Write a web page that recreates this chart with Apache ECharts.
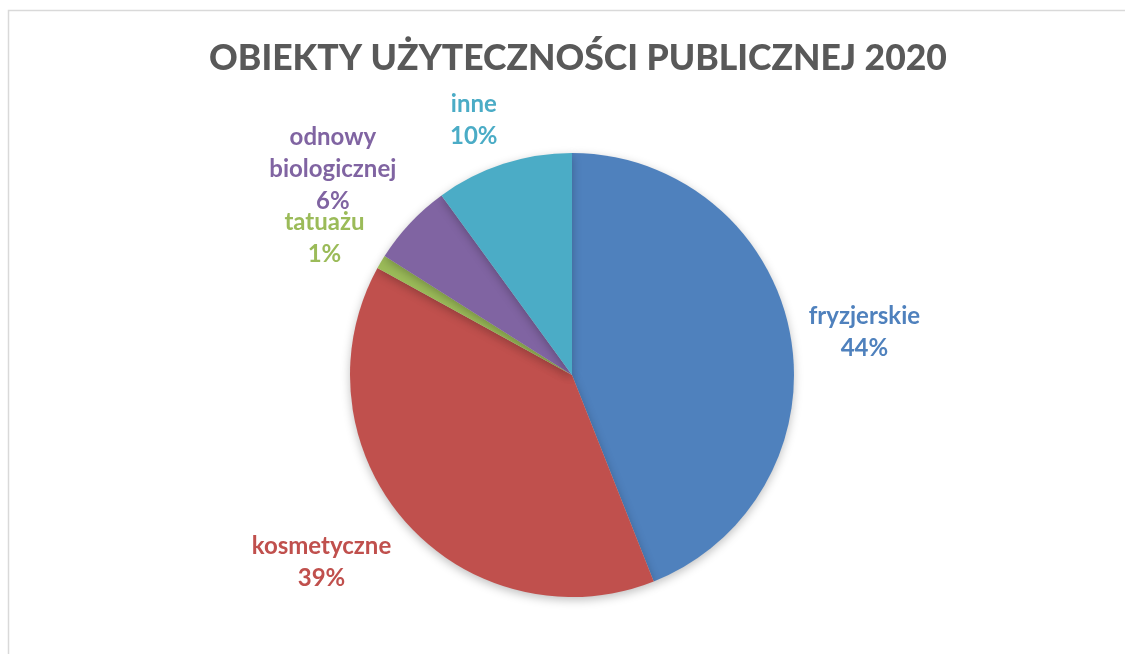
<!DOCTYPE html>
<html>
<head>
<meta charset="utf-8">
<script src="https://cdn.jsdelivr.net/npm/echarts@6/dist/echarts.min.js"></script>
<style>
html,body{margin:0;padding:0;background:#fff;}
#chart{width:1125px;height:654px;}
</style>
</head>
<body>
<div id="chart"></div>
<script>
var titleText = 'OBIEKTY UŻYTECZNOŚCI PUBLICZNEJ 2020';
var categories = ['fryzjerskie', 'kosmetyczne', 'tatuażu', 'odnowy\nbiologicznej', 'inne'];
var values = [44, 39, 1, 6, 10];
var colors = ['#4F81BD', '#C0504D', '#9BBB59', '#8064A2', '#4BACC6'];

var CX = 572, CY = 375, R = 222, GAP = 19;
var FONT = 'Lato, "Open Sans", sans-serif';

var total = values.reduce(function (a, b) { return a + b; }, 0);
var midAngles = [];
(function () {
  var acc = 0;
  for (var i = 0; i < values.length; i++) {
    midAngles.push((acc + values[i] / 2) / total * 2 * Math.PI);
    acc += values[i];
  }
})();

var chart = echarts.init(document.getElementById('chart'));
chart.setOption({
  backgroundColor: '#ffffff',
  animation: false,
  title: {
    text: titleText,
    left: 573,
    textAlign: 'center',
    top: 36,
    textStyle: { fontFamily: FONT, fontWeight: 900, fontSize: 35.5, color: '#595959' }
  },
  graphic: [{
    type: 'rect',
    shape: { x: 8.5, y: 10.5, width: 1200, height: 700 },
    style: { fill: 'none', stroke: '#d9d9d9', lineWidth: 1.5 },
    silent: true
  }],
  series: [{
    type: 'pie',
    center: [CX, CY],
    radius: [0, R],
    startAngle: 90,
    clockwise: true,
    percentPrecision: 0,
    avoidLabelOverlap: false,
    data: categories.map(function (c, i) {
      return { name: c, value: values[i], itemStyle: { color: colors[i] }, label: { color: colors[i] } };
    }),
    itemStyle: {
      borderWidth: 0,
      shadowBlur: 10,
      shadowOffsetY: 3,
      shadowColor: 'rgba(0,0,0,0.25)'
    },
    label: {
      show: true,
      position: 'outside',
      formatter: '{b}\n{d}%',
      fontFamily: FONT,
      fontWeight: 'bold',
      fontSize: 24,
      lineHeight: 32,
      align: 'center'
    },
    labelLine: { show: false, length: 10, length2: 0 },
    labelLayout: function (p) {
      var a = midAngles[p.dataIndex];
      var ux = Math.sin(a), uy = -Math.cos(a);
      var w = p.labelRect.width, h = p.labelRect.height - 8;
      var px = CX + (R + GAP) * ux, py = CY + (R + GAP) * uy;
      var fy = Math.max(0, Math.min(1, (Math.abs(uy) - 0.25) / 0.45));
      return {
        x: px + (ux >= 0 ? 1 : -1) * w / 2,
        y: py + (uy >= 0 ? 1 : -1) * fy * h / 2 + 2,
        align: 'center',
        verticalAlign: 'middle'
      };
    }
  }]
});
</script>
</body>
</html>
